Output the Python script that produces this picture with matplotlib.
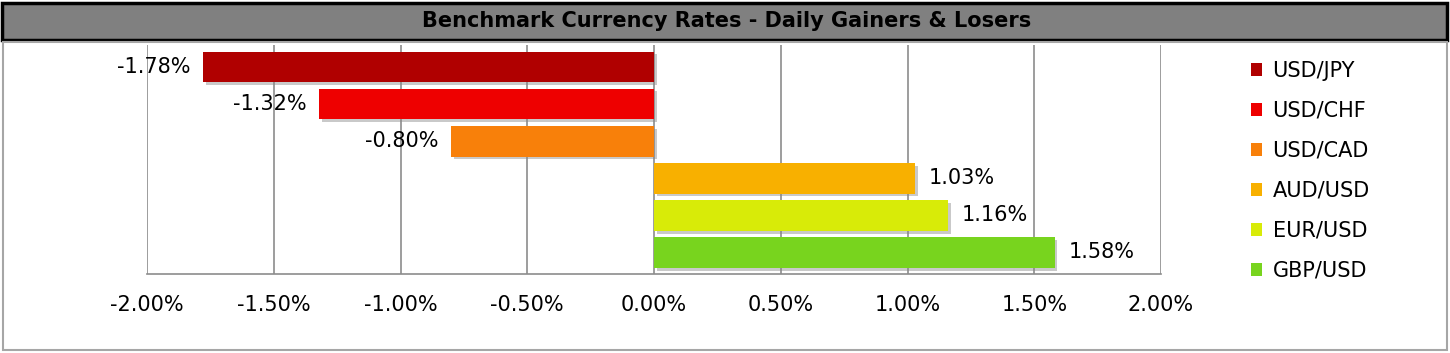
import matplotlib.pyplot as plt
from matplotlib.patches import Rectangle, Patch
import matplotlib.patheffects as pe
from matplotlib.ticker import FuncFormatter

# data
pairs = ['USD/JPY', 'USD/CHF', 'USD/CAD', 'AUD/USD', 'EUR/USD', 'GBP/USD']
changes = [-1.78, -1.32, -0.80, 1.03, 1.16, 1.58]  # percent
colors = ['#B00000', '#EE0000', '#F8800A', '#F8B000', '#D8EB08', '#78D41E']
title = 'Benchmark Currency Rates - Daily Gainers & Losers'

W, H = 1450, 353
fig = plt.figure(figsize=(W / 100, H / 100), dpi=100)
fig.patch.set_facecolor('white')

# title bar and chart frame
fig.patches.append(Rectangle((2 / W, 1 - 40 / H), 1445 / W, 37 / H, transform=fig.transFigure,
                             facecolor='#808080', edgecolor='black', linewidth=2.5))
fig.patches.append(Rectangle((3 / W, 3 / H), 1444 / W, (H - 45) / H, transform=fig.transFigure,
                             facecolor='none', edgecolor='#A6A6A6', linewidth=1.5))
fig.text(727 / W, 1 - 21 / H, title, ha='center', va='center', fontsize=15,
         fontweight='bold', family=['Liberation Sans Narrow', 'DejaVu Sans'])

fs = 15
ax = fig.add_axes([147 / W, 79 / H, 1014 / W, 229 / H])
y = list(range(len(pairs)))
bars = ax.barh(y, changes, height=0.83, color=colors, zorder=3)
for b in bars:
    b.set_path_effects([pe.SimplePatchShadow(offset=(2, -2), shadow_rgbFace='#888888', alpha=0.45),
                        pe.Normal()])

ax.set_xlim(-2.0, 2.0)
ax.set_ylim(5.58, -0.593)
ax.set_xticks([-2.0, -1.5, -1.0, -0.5, 0.0, 0.5, 1.0, 1.5, 2.0])
ax.xaxis.set_major_formatter(FuncFormatter(lambda v, p: f'{v:.2f}%'))
ax.set_yticks([])
ax.tick_params(axis='x', length=0, pad=15, labelsize=fs)
ax.grid(axis='x', color='#8C8C8C', linewidth=1.2, zorder=0)
for s in ['top', 'right', 'left']:
    ax.spines[s].set_visible(False)
ax.spines['bottom'].set_color('#8C8C8C')
ax.spines['bottom'].set_linewidth(1.2)

for yi, v in zip(y, changes):
    if v < 0:
        ax.annotate(f'{v:.2f}%', (v, yi), xytext=(-9, 0), textcoords='offset points',
                    ha='right', va='center', fontsize=fs)
    else:
        ax.annotate(f'{v:.2f}%', (v, yi), xytext=(10, 0), textcoords='offset points',
                    ha='left', va='center', fontsize=fs)

handles = [Patch(facecolor=c, label=l) for c, l in zip(colors, pairs)]
fig.legend(handles=handles, loc='upper left', bbox_to_anchor=(1232 / W, 1 - 42 / H),
           frameon=False, fontsize=fs, handlelength=0.55, handleheight=0.55,
           handletextpad=0.5, labelspacing=0.96)

fig.savefig('out.png', dpi=100)
